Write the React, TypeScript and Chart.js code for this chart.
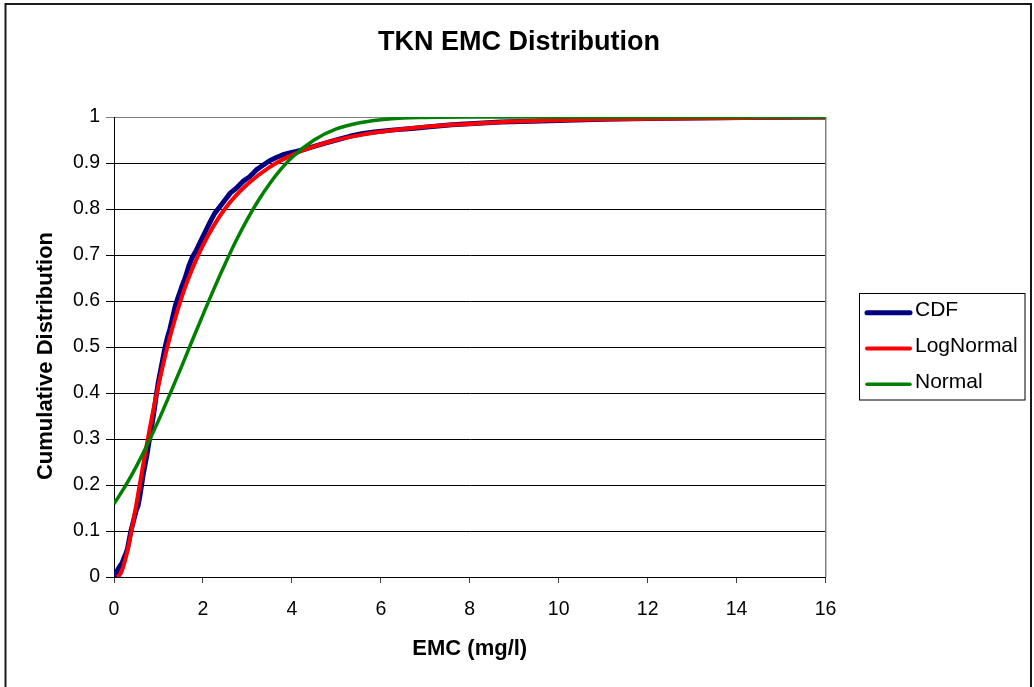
import React, { useEffect, useRef } from 'react';
import { Chart, registerables } from 'chart.js';

Chart.register(...registerables);

const FONT = '"Liberation Sans", Arial, sans-serif';

const chartTitle = 'TKN EMC Distribution';
const xAxisTitle = 'EMC (mg/l)';
const yAxisTitle = 'Cumulative Distribution';

const xTickLabels = ['0', '2', '4', '6', '8', '10', '12', '14', '16'];
const yTickLabels = ['0', '0.1', '0.2', '0.3', '0.4', '0.5', '0.6', '0.7', '0.8', '0.9', '1'];

const seriesNames = ['CDF', 'LogNormal', 'Normal'];
const seriesColors = ['#000080', '#FF0000', '#008000'];

// Empirical CDF
const cdfX = [0, 0.04, 0.08, 0.12, 0.18, 0.22, 0.27, 0.3, 0.34, 0.38, 0.42, 0.46, 0.5, 0.54, 0.58, 0.62, 0.66, 0.7, 0.74, 0.78, 0.82, 0.86, 0.9, 0.95, 1.0, 1.05, 1.1, 1.15, 1.2, 1.26, 1.32, 1.38, 1.45, 1.52, 1.6, 1.68, 1.76, 1.85, 1.95, 2.05, 2.15, 2.26, 2.38, 2.5, 2.62, 2.75, 2.9, 3.05, 3.2, 3.35, 3.5, 3.65, 3.8, 3.95, 4.1, 4.3, 4.5, 4.75, 5.0, 5.3, 5.6, 5.9, 6.3, 6.7, 7.1, 7.6, 8.1, 8.7, 9.4, 10.2, 11.0, 12.0, 13.0, 14.2, 15.2, 16];
const cdfY = [0, 0.008, 0.015, 0.022, 0.03, 0.04, 0.052, 0.06, 0.08, 0.1, 0.115, 0.13, 0.145, 0.155, 0.175, 0.2, 0.225, 0.245, 0.265, 0.29, 0.31, 0.335, 0.36, 0.395, 0.425, 0.45, 0.475, 0.5, 0.52, 0.54, 0.565, 0.59, 0.61, 0.63, 0.65, 0.675, 0.695, 0.71, 0.73, 0.75, 0.77, 0.79, 0.805, 0.82, 0.835, 0.845, 0.86, 0.87, 0.885, 0.895, 0.905, 0.912, 0.918, 0.922, 0.925, 0.93, 0.936, 0.943, 0.95, 0.958, 0.964, 0.968, 0.972, 0.975, 0.979, 0.983, 0.986, 0.989, 0.991, 0.993, 0.995, 0.997, 0.998, 0.999, 0.9995, 1.0];

// LogNormal fit
const logNormalX = [0.06, 0.1, 0.15, 0.2, 0.3, 0.4, 0.5, 0.6, 0.7, 0.8, 0.9, 1.0, 1.2, 1.4, 1.6, 1.8, 2.0, 2.25, 2.5, 2.75, 3.0, 3.5, 4.0, 4.5, 5.0, 5.5, 6.0, 7.0, 8.0, 9.0, 10, 11, 12, 14, 16];
const logNormalY = [0.0003, 0.002, 0.008, 0.02, 0.056, 0.104, 0.157, 0.213, 0.268, 0.321, 0.371, 0.417, 0.5, 0.57, 0.63, 0.679, 0.721, 0.765, 0.801, 0.83, 0.854, 0.891, 0.917, 0.936, 0.95, 0.96, 0.968, 0.979, 0.985, 0.99, 0.993, 0.995, 0.996, 0.998, 0.999];

// Normal fit
const normalX = [0, 0.25, 0.5, 0.75, 1, 1.25, 1.5, 1.75, 2, 2.25, 2.5, 2.75, 3, 3.25, 3.5, 3.75, 4, 4.5, 5, 5.5, 6, 6.5, 7, 8, 10, 12, 14, 16];
const normalY = [0.159, 0.197, 0.24, 0.288, 0.34, 0.396, 0.453, 0.512, 0.57, 0.627, 0.681, 0.732, 0.778, 0.819, 0.855, 0.886, 0.912, 0.95, 0.974, 0.987, 0.994, 0.998, 0.999, 1, 1, 1, 1, 1];

const toPoints = (xs: number[], ys: number[]) => xs.map((x, i) => ({ x, y: ys[i] }));

const decorPlugin = {
  id: 'decor',
  beforeDraw(chart: any) {
    const ctx = chart.ctx;
    ctx.save();
    ctx.fillStyle = '#ffffff';
    ctx.fillRect(0, 0, chart.width, chart.height);
    ctx.restore();
  },
  beforeDatasetsDraw(chart: any) {
    const { ctx, chartArea } = chart;
    ctx.save();
    ctx.strokeStyle = '#808080';
    ctx.lineWidth = 1.5;
    ctx.beginPath();
    ctx.moveTo(chartArea.right + 0.25, chartArea.top);
    ctx.lineTo(chartArea.right + 0.25, chartArea.bottom);
    ctx.stroke();
    ctx.restore();
  },
  afterDraw(chart: any) {
    const ctx = chart.ctx;
    ctx.save();
    // y axis title
    ctx.save();
    ctx.translate(51.5, 356);
    ctx.rotate(-Math.PI / 2);
    ctx.font = `bold 22px ${FONT}`;
    ctx.fillStyle = '#000000';
    ctx.textAlign = 'center';
    ctx.textBaseline = 'alphabetic';
    ctx.fillText(yAxisTitle, 0, 0);
    ctx.restore();
    // outer frame
    ctx.strokeStyle = '#1a1a1a';
    ctx.lineWidth = 2;
    ctx.strokeRect(5.5, 4, 1025.5, 700);
    // legend box
    ctx.lineWidth = 1;
    ctx.strokeStyle = '#000000';
    ctx.strokeRect(859.5, 293.5, 165.5, 106.5);
    ctx.font = `21px ${FONT}`;
    ctx.textBaseline = 'middle';
    ctx.textAlign = 'left';
    chart.data.datasets.forEach((ds: any, i: number) => {
      const ty = 310.5 + i * 35.8;
      const ly = ty + 2.2;
      ctx.strokeStyle = ds.borderColor;
      ctx.lineWidth = ds.borderWidth;
      ctx.lineCap = 'round';
      ctx.beginPath();
      ctx.moveTo(867, ly);
      ctx.lineTo(910, ly);
      ctx.stroke();
      ctx.fillStyle = '#000000';
      ctx.fillText(ds.label, 915, ty);
    });
    ctx.restore();
  },
};

export default function App() {
  const canvasRef = useRef<HTMLCanvasElement | null>(null);

  useEffect(() => {
    if (!canvasRef.current) return;
    const chart = new Chart(canvasRef.current, {
      type: 'line',
      data: {
        datasets: [
          {
            label: seriesNames[0],
            data: toPoints(cdfX, cdfY),
            borderColor: seriesColors[0],
            backgroundColor: seriesColors[0],
            borderWidth: 5,
            pointRadius: 0,
            tension: 0,
            borderJoinStyle: 'round',
            order: 3,
          },
          {
            label: seriesNames[1],
            data: toPoints(logNormalX, logNormalY),
            borderColor: seriesColors[1],
            backgroundColor: seriesColors[1],
            borderWidth: 4,
            pointRadius: 0,
            cubicInterpolationMode: 'monotone',
            borderJoinStyle: 'round',
            order: 2,
          },
          {
            label: seriesNames[2],
            data: toPoints(normalX, normalY),
            borderColor: seriesColors[2],
            backgroundColor: seriesColors[2],
            borderWidth: 3.5,
            pointRadius: 0,
            cubicInterpolationMode: 'monotone',
            borderJoinStyle: 'round',
            order: 1,
          },
        ],
      },
      options: {
        responsive: false,
        animation: false,
        devicePixelRatio: 1,
        layout: { padding: { left: 4, right: 0, top: 0, bottom: 0 } },
        plugins: {
          legend: { display: false },
          tooltip: { enabled: false },
          title: {
            display: true,
            text: chartTitle,
            color: '#000000',
            font: { family: FONT, size: 27, weight: 'bold', lineHeight: 1.2 },
            padding: { top: 26.7, bottom: 57.9 },
          },
        },
        scales: {
          x: {
            type: 'linear',
            position: 'bottom',
            min: 0,
            max: 16,
            afterFit: (s: any) => { s.height = 110; },
            ticks: {
              stepSize: 2,
              autoSkip: false,
              maxRotation: 0,
              padding: 15.2,
              color: '#000000',
              font: { family: FONT, size: 19.5, lineHeight: 1.2 },
              callback: (v: any) => xTickLabels[Math.round(Number(v) / 2)],
            },
            grid: {
              display: true,
              drawOnChartArea: false,
              drawTicks: true,
              tickLength: 6,
              color: '#404040',
            },
            border: { display: true, color: '#000000', width: 1 },
            title: {
              display: true,
              text: xAxisTitle,
              color: '#000000',
              font: { family: FONT, size: 22, weight: 'bold', lineHeight: 1.2 },
              padding: { top: 0, bottom: 25.1 },
            },
          },
          y: {
            type: 'linear',
            position: 'left',
            min: 0,
            max: 1,
            afterFit: (s: any) => { s.width = 110; },
            ticks: {
              stepSize: 0.1,
              autoSkip: false,
              padding: 6,
              color: '#000000',
              font: { family: FONT, size: 19.5, lineHeight: 1.2 },
              callback: (v: any) => yTickLabels[Math.round(Number(v) * 10)],
            },
            grid: {
              display: true,
              drawTicks: true,
              tickLength: 8,
              lineWidth: 1,
              color: (c: any) => (c.tick && c.tick.value === 1 ? '#808080' : '#000000'),
            },
            border: { display: true, color: '#000000', width: 1 },
            title: { display: false, text: yAxisTitle },
          },
          legendSpace: {
            type: 'linear',
            position: 'right',
            display: true,
            afterFit: (s: any) => { s.width = 208.5; },
            ticks: { display: false },
            grid: { display: false, drawTicks: false },
            border: { display: false },
          },
        },
      } as any,
      plugins: [decorPlugin],
    });
    return () => chart.destroy();
  }, []);

  return (
    <div style={{ position: 'fixed', left: 0, top: 0, width: 1034, height: 687, background: '#fff' }}>
      <canvas ref={canvasRef} width={1034} height={687} style={{ width: 1034, height: 687, display: 'block' }} />
    </div>
  );
}
